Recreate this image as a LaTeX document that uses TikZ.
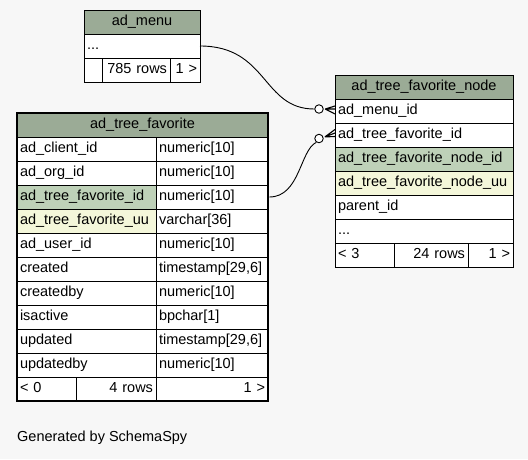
\documentclass[tikz,border=0pt]{standalone}
\usepackage{fontspec}
\setmainfont{Liberation Sans}
\usetikzlibrary{calc}
\definecolor{bgc}{HTML}{F7F7F7}
\definecolor{hdr}{HTML}{9BAB96}
\definecolor{pkc}{HTML}{BED1B8}
\definecolor{uuc}{HTML}{F4F7DA}
\newcommand{\tabfont}{\fontsize{14.5}{17}\selectfont}
\begin{document}
\begin{tikzpicture}[x=1pt,y=-1pt,
  cell/.style={draw=black, line width=0.9pt, anchor=north west, minimum height=24pt,
    inner xsep=3pt, inner ysep=0pt, outer sep=0pt, font=\tabfont, text height=10.5pt, text depth=3pt, fill=white},
  lc/.style={text width=#1, align=left},
  rc/.style={text width=#1, align=right},
  hd/.style={fill=hdr, align=center},
  conn/.style={draw=black, line width=0.9pt},
  ring/.style={circle, draw=black, line width=0.9pt, fill=white, minimum size=8.5pt, inner sep=0pt},
  crow/.style={draw=black, line width=1.1pt}]
\useasboundingbox[fill=bgc] (0,0) rectangle (528,459);

% ad_menu
\node[cell,lc=110pt,hd] (m_h) at (84,10) {ad\_menu};
\node[cell,lc=110pt] (m_r1) at (84,34) {...};
\node[cell,lc=12pt] (m_f1) at (84,58) {};
\node[cell,rc=62pt] (m_f2) at (102,58) {785 rows};
\node[cell,rc=24pt] (m_f3) at (170,58) {1 >};
\draw[line width=0.9pt] (m_h.north west) rectangle (m_f3.south east);

% ad_tree_favorite_node
\node[cell,lc=172pt,hd] (n_h) at (335,75) {ad\_tree\_favorite\_node};
\node[cell,lc=172pt] (n_r1) at (335,99) {ad\_menu\_id};
\node[cell,lc=172pt] (n_r2) at (335,123) {ad\_tree\_favorite\_id};
\node[cell,lc=172pt,fill=pkc] (n_r3) at (335,147) {ad\_tree\_favorite\_node\_id};
\node[cell,lc=172pt,fill=uuc] (n_r4) at (335,171) {ad\_tree\_favorite\_node\_uu};
\node[cell,lc=172pt] (n_r5) at (335,195) {parent\_id};
\node[cell,lc=172pt] (n_r6) at (335,219) {...};
\node[cell,lc=53pt] (n_f1) at (335,243) {< 3};
\node[cell,rc=68pt] (n_f2) at (394,243) {24 rows};
\node[cell,rc=39pt] (n_f3) at (468,243) {1 >};
\draw[line width=0.9pt] (n_h.north west) rectangle (n_f3.south east);

% ad_tree_favorite
\node[cell,lc=245pt,hd] (f_h) at (17,113) {ad\_tree\_favorite};
\node[cell,lc=133pt] (f_r1a) at (17,137) {ad\_client\_id};
\node[cell,lc=106pt] (f_r1b) at (156,137) {numeric[10]};
\node[cell,lc=133pt] (f_r2a) at (17,161) {ad\_org\_id};
\node[cell,lc=106pt] (f_r2b) at (156,161) {numeric[10]};
\node[cell,lc=133pt,fill=pkc] (f_r3a) at (17,185) {ad\_tree\_favorite\_id};
\node[cell,lc=106pt] (f_r3b) at (156,185) {numeric[10]};
\node[cell,lc=133pt,fill=uuc] (f_r4a) at (17,209) {ad\_tree\_favorite\_uu};
\node[cell,lc=106pt] (f_r4b) at (156,209) {varchar[36]};
\node[cell,lc=133pt] (f_r5a) at (17,233) {ad\_user\_id};
\node[cell,lc=106pt] (f_r5b) at (156,233) {numeric[10]};
\node[cell,lc=133pt] (f_r6a) at (17,257) {created};
\node[cell,lc=106pt] (f_r6b) at (156,257) {timestamp[29,6]};
\node[cell,lc=133pt] (f_r7a) at (17,281) {createdby};
\node[cell,lc=106pt] (f_r7b) at (156,281) {numeric[10]};
\node[cell,lc=133pt] (f_r8a) at (17,305) {isactive};
\node[cell,lc=106pt] (f_r8b) at (156,305) {bpchar[1]};
\node[cell,lc=133pt] (f_r9a) at (17,329) {updated};
\node[cell,lc=106pt] (f_r9b) at (156,329) {timestamp[29,6]};
\node[cell,lc=133pt] (f_r10a) at (17,353) {updatedby};
\node[cell,lc=106pt] (f_r10b) at (156,353) {numeric[10]};
\node[cell,lc=53pt] (f_f1) at (17,377) {< 0};
\node[cell,rc=74pt] (f_f2) at (76,377) {4 rows};
\node[cell,rc=106pt] (f_f3) at (156,377) {1 >};
\draw[line width=2.6pt] (f_h.north west) rectangle (f_f3.south east);

% connector ad_menu -> ad_tree_favorite_node.ad_menu_id
\node[ring] (o1) at (319,109) {};
\draw[conn] (m_r1.east) .. controls (268,46) and (262,109) .. (o1.west);
\coordinate (c1a) at ($(n_r1.west)+(0,-5)$);
\coordinate (c1b) at ($(n_r1.west)+(0,-2)$);
\coordinate (c1c) at ($(n_r1.west)+(0,3)$);
\coordinate (c1p) at ($(o1.east)+(1.5,0)$);
\draw[crow] (c1p) -- (c1a) (c1p) -- (c1b) (c1p) -- (c1c);

% connector ad_tree_favorite.ad_tree_favorite_id -> ad_tree_favorite_node.ad_tree_favorite_id
\node[ring] (o2) at (319,138.5) {};
\draw[conn] ($(f_r3b.east)+(1.3,0)$) .. controls (300,197) and (300,150) .. (o2.235);
\coordinate (c2a) at ($(n_r2.west)+(0,-5.5)$);
\coordinate (c2b) at ($(n_r2.west)+(0,-2)$);
\coordinate (c2c) at ($(n_r2.west)+(0,1.5)$);
\coordinate (c2p) at ($(o2.20)+(1.5,0)$);
\draw[crow] (c2p) -- (c2a) (c2p) -- (c2b) (c2p) -- (c2c);

\node[font=\tabfont, anchor=west, inner sep=0pt] (gen) at (17,438) {Generated by SchemaSpy};
\end{tikzpicture}
\end{document}
